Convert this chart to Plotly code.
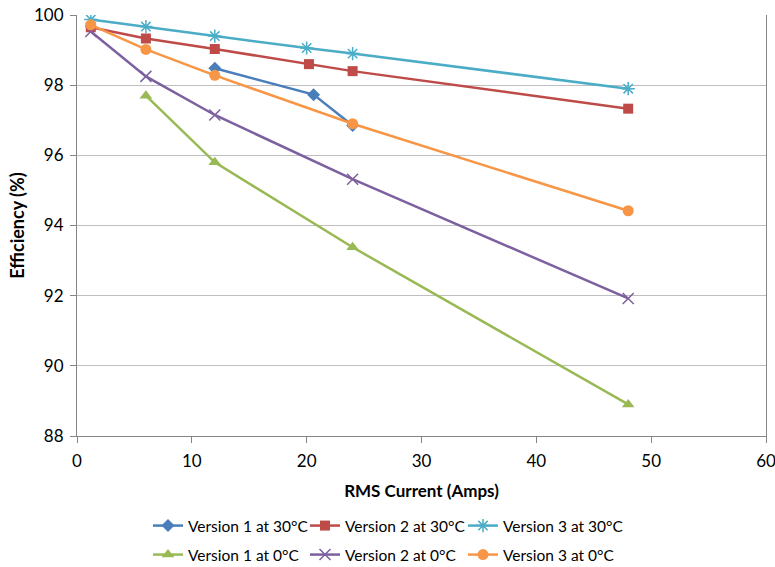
import plotly.graph_objects as go

# Efficiency vs RMS current for three versions at two temperatures
v1_30_x = [12, 20.6, 24]
v1_30_y = [98.48, 97.73, 96.85]

v2_30_x = [1.2, 6, 12, 20.2, 24, 48]
v2_30_y = [99.65, 99.33, 99.03, 98.6, 98.4, 97.33]

v3_30_x = [1.2, 6, 12, 20, 24, 48]
v3_30_y = [99.87, 99.67, 99.4, 99.06, 98.9, 97.9]

v1_0_x = [6, 12, 24, 48]
v1_0_y = [97.7, 95.8, 93.38, 88.9]

v2_0_x = [1.2, 6, 12, 24, 48]
v2_0_y = [99.53, 98.25, 97.15, 95.32, 91.92]

v3_0_x = [1.2, 6, 12, 24, 48]
v3_0_y = [99.72, 99.02, 98.28, 96.9, 94.42]

x_ticks = [0, 10, 20, 30, 40, 50, 60]
y_ticks = [88, 90, 92, 94, 96, 98, 100]

FONT = "Lato, 'Open Sans', sans-serif"
LW = 2.5
W, H = 775, 567

# (name, x, y, colour, marker, legend id, legend left px, legend row centre px)
series = [
    ("Version 1 at 30°C", v1_30_x, v1_30_y, "#4A7EBB",
     dict(symbol="diamond", size=10), "legend", 148, 526),
    ("Version 2 at 30°C", v2_30_x, v2_30_y, "#BE4B48",
     dict(symbol="square", size=10), "legend2", 305, 526),
    ("Version 3 at 30°C", v3_30_x, v3_30_y, "#4BACC6",
     dict(symbol="asterisk-open", size=11, line=dict(width=1.5, color="#4BACC6")),
     "legend3", 463, 526),
    ("Version 1 at 0°C", v1_0_x, v1_0_y, "#98B954",
     dict(symbol="triangle-up", size=11), "legend4", 148, 555),
    ("Version 2 at 0°C", v2_0_x, v2_0_y, "#7D60A0",
     dict(symbol="x-thin-open", size=11, line=dict(width=1.5, color="#7D60A0")),
     "legend5", 305, 555),
    ("Version 3 at 0°C", v3_0_x, v3_0_y, "#F79646",
     dict(symbol="circle", size=11), "legend6", 463, 555),
]

fig = go.Figure()
legends = {}
for name, xs, ys, color, marker, leg, lx, ly in series:
    fig.add_trace(go.Scatter(
        x=xs, y=ys, name=name, mode="lines+markers",
        line=dict(color=color, width=LW),
        marker=dict(color=color, **marker), legend=leg, showlegend=True,
    ))
    legends[leg] = dict(
        orientation="h", xref="container", yref="container",
        x=lx / W, y=1 - ly / H, xanchor="left", yanchor="middle",
        font=dict(family=FONT, size=15.5, color="#000000"),
        bgcolor="rgba(0,0,0,0)", itemwidth=30,
    )

fig.update_layout(
    width=W, height=H,
    margin=dict(l=77, r=9, t=15, b=131),
    paper_bgcolor="white", plot_bgcolor="white",
    font=dict(family=FONT, size=17, color="#000000"),
    showlegend=True,
    **legends,
    xaxis=dict(
        range=[0, 60], tickvals=x_ticks, ticktext=[str(v) for v in x_ticks],
        showgrid=False, zeroline=False, automargin=False,
        showline=True, linecolor="#868686", linewidth=1,
        ticks="outside", ticklen=6, tickcolor="#868686",
        ticklabelstandoff=4, ticklabeloverflow="allow",
        tickfont=dict(family=FONT, size=17),
        title=dict(text="<b>RMS Current (Amps)</b>", standoff=14,
                   font=dict(family=FONT, size=17)),
    ),
    yaxis=dict(
        range=[88, 100], tickvals=y_ticks, ticktext=[str(v) for v in y_ticks],
        showgrid=True, gridcolor="#BFBFBF", gridwidth=1, zeroline=False,
        automargin=False,
        showline=True, linecolor="#868686", linewidth=1, mirror=True,
        ticks="outside", ticklen=6, tickcolor="#868686",
        ticklabelstandoff=3, ticklabeloverflow="allow",
        tickfont=dict(family=FONT, size=17),
        title=dict(text="<b>Efficiency (%)</b>", standoff=4,
                   font=dict(family=FONT, size=18)),
    ),
)

fig.write_html("out.html")
